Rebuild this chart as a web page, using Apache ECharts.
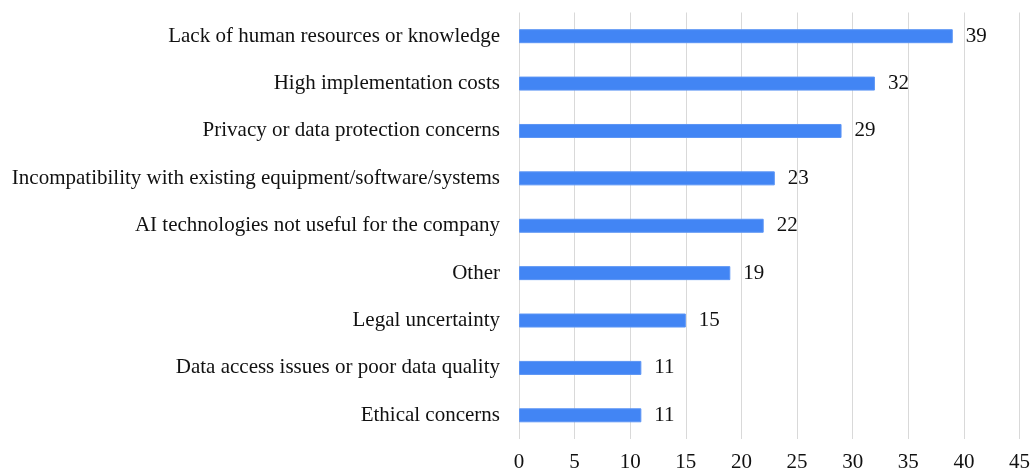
<!DOCTYPE html>
<html>
<head>
<meta charset="utf-8">
<script src="https://cdn.jsdelivr.net/npm/echarts@6/dist/echarts.min.js"></script>
<style>
  html, body { margin: 0; padding: 0; background: #fff; }
  #chart { width: 1033px; height: 473px; }
</style>
</head>
<body>
<div id="chart"></div>
<script>
// Reasons for not using AI, listed top to bottom
const categories = [
  'Lack of human resources or knowledge',
  'High implementation costs',
  'Privacy or data protection concerns',
  'Incompatibility with existing equipment/software/systems',
  'AI technologies not useful for the company',
  'Other',
  'Legal uncertainty',
  'Data access issues or poor data quality',
  'Ethical concerns'
];
const values = [39, 32, 29, 23, 22, 19, 15, 11, 11];
const xTicks = [0, 5, 10, 15, 20, 25, 30, 35, 40, 45];

const FONT = '"Liberation Serif", "Times New Roman", serif';
const TEXT = '#111111';
const chart = echarts.init(document.getElementById('chart'), null, { renderer: 'canvas' });

chart.setOption({
  animation: false,
  grid: { left: 519, right: 12, top: 12.5, bottom: 32.5, containLabel: false },
  xAxis: {
    type: 'value',
    min: xTicks[0],
    max: xTicks[xTicks.length - 1],
    interval: 5,
    axisLine: { show: false },
    axisTick: { show: false },
    splitLine: { show: true, lineStyle: { color: '#d9d9d9', width: 1 } },
    axisLabel: { color: TEXT, fontFamily: FONT, fontSize: 21, margin: 13 }
  },
  yAxis: {
    type: 'category',
    data: categories.slice().reverse(),
    axisLine: { show: false },
    axisTick: { show: false },
    axisLabel: { color: TEXT, fontFamily: FONT, fontSize: 21, margin: 19 }
  },
  series: [{
    type: 'bar',
    data: values.slice().reverse(),
    barWidth: 14,
    itemStyle: { color: '#4285f4', borderColor: '#5c95f5', borderWidth: 1 },
    label: {
      show: true,
      position: 'right',
      distance: 13,
      color: TEXT,
      fontFamily: FONT,
      fontSize: 21
    }
  }]
});
</script>
</body>
</html>
